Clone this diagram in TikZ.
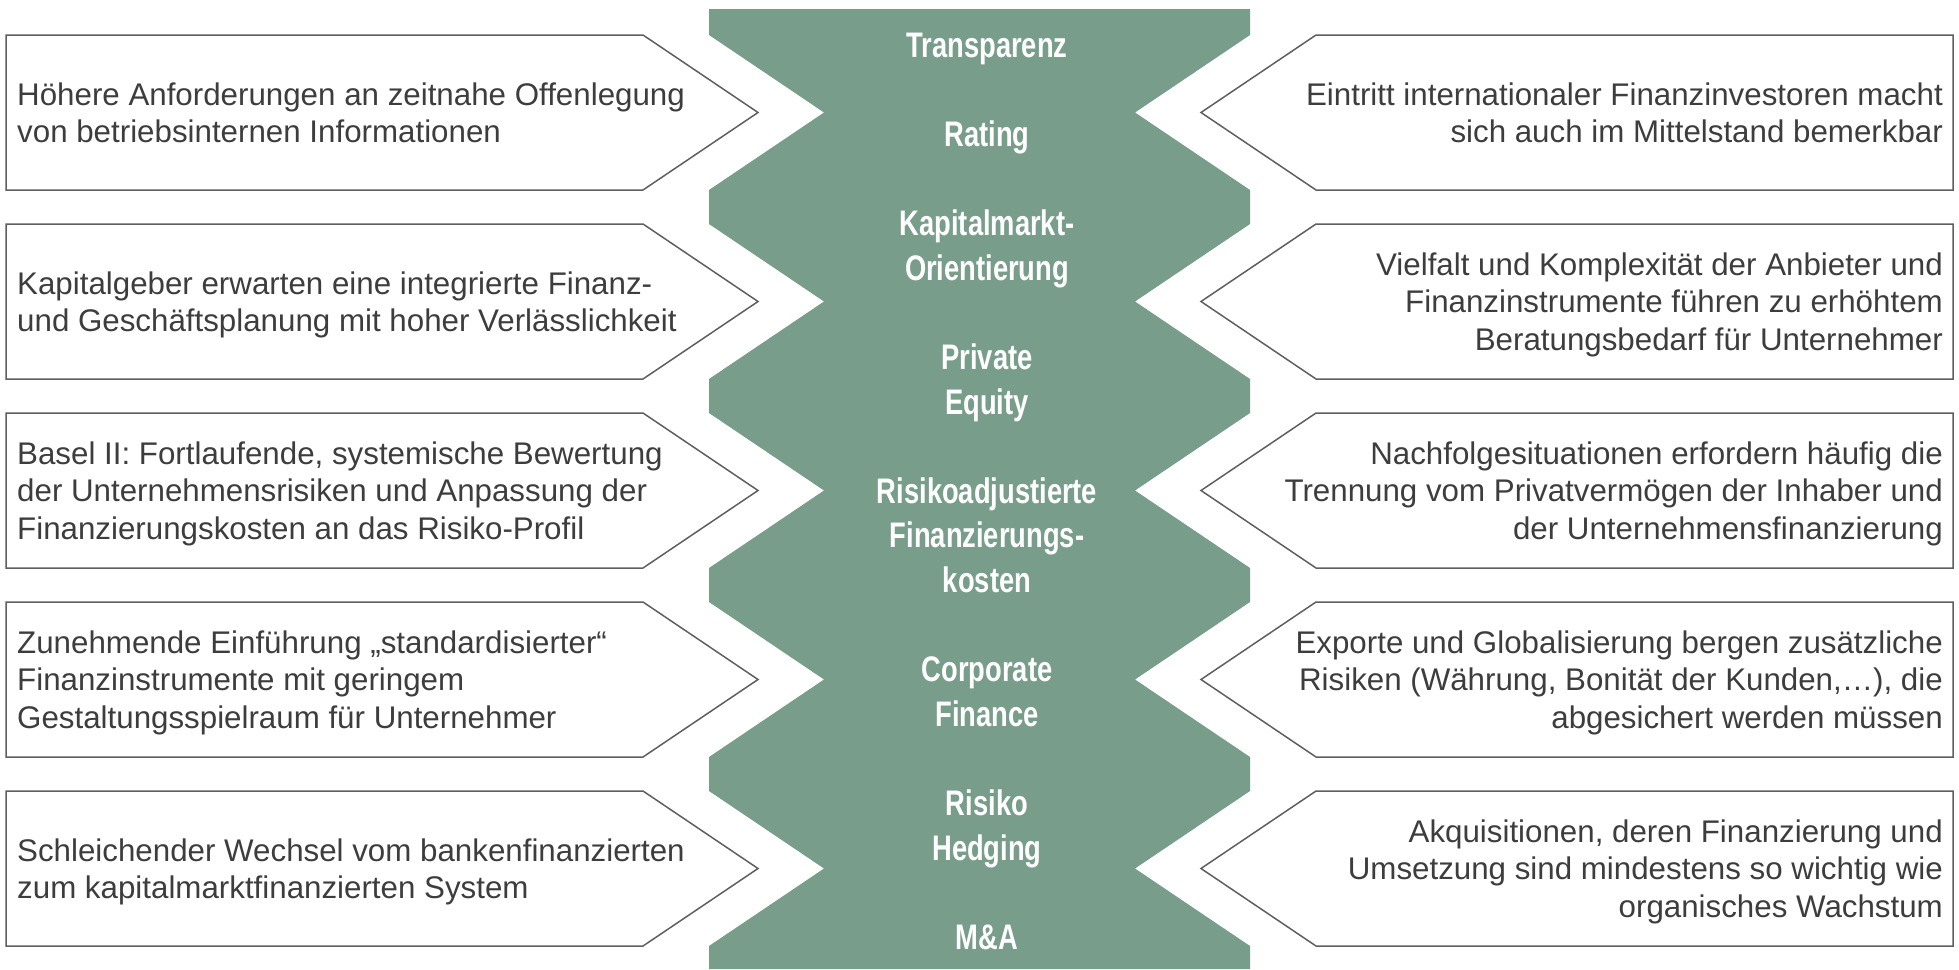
\documentclass[tikz,border=0pt]{standalone}
\usepackage{fontspec}
\setmainfont{Liberation Sans}
\newfontfamily\labelfont[FakeStretch=0.77]{Liberation Sans Bold}
\definecolor{greenband}{HTML}{789D8A}
\definecolor{boxline}{HTML}{5F5F5F}
\definecolor{boxtext}{HTML}{3D3D3D}
\newcommand\mystrut{\rule{0pt}{30pt}}
\begin{document}
\begin{tikzpicture}[x=1pt,y=-1pt,
  boxshape/.style={draw=boxline, line width=1.5pt, fill=white, line join=miter},
  ltxt/.style={anchor=north west, align=left, inner sep=0pt, text=boxtext, font=\fontsize{31.3}{37.4}\selectfont},
  rtxt/.style={anchor=north east, align=right, inner sep=0pt, text=boxtext, font=\fontsize{31.3}{37.4}\selectfont},
  lbl/.style={anchor=north, align=center, inner sep=0pt, text=white, font=\labelfont\fontsize{35.5}{44.6}\selectfont}]
\useasboundingbox (0,0) rectangle (1959,969);
\fill[white] (0,0) rectangle (1959,969);
% central green band
\fill[greenband] (709,9) -- (1250,9)
  \foreach \t in {35,224,413,602,791} { -- (1250,\t) -- (1135,\t+77.5) -- (1250,\t+155) }
  -- (1250,969) -- (709,969)
  \foreach \t in {791,602,413,224,35} { -- (709,\t+155) -- (824,\t+77.5) -- (709,\t) }
  -- cycle;
% boxes
\foreach \t in {35,224,413,602,791} {
  \draw[boxshape] (6,\t) -- (643,\t) -- (758,\t+77.5) -- (643,\t+155) -- (6,\t+155) -- cycle;
  \draw[boxshape] (1953,\t) -- (1316,\t) -- (1201,\t+77.5) -- (1316,\t+155) -- (1953,\t+155) -- cycle;
}
% left texts
\node[ltxt] (l1) at (17,75) {\mystrut H\"ohere Anforderungen an zeitnahe Offenlegung\\von betriebsinternen Informationen};
\node[ltxt] (l2) at (17,264) {\mystrut Kapitalgeber erwarten eine integrierte Finanz-\\und Gesch\"aftsplanung mit hoher Verl\"asslichkeit};
\node[ltxt] (l3) at (17,434.3) {\mystrut Basel II: Fortlaufende, systemische Bewertung\\der Unternehmensrisiken und Anpassung der\\Finanzierungskosten an das Risiko-Profil};
\node[ltxt] (l4) at (17,623.3) {\mystrut Zunehmende Einführung „standardisierter“\\Finanzinstrumente mit geringem\\Gestaltungsspielraum für Unternehmer};
\node[ltxt] (l5) at (17,831) {\mystrut Schleichender Wechsel vom bankenfinanzierten\\zum kapitalmarktfinanzierten System};
% right texts
\node[rtxt] (r1) at (1943,75) {\mystrut Eintritt internationaler Finanzinvestoren macht\\sich auch im Mittelstand bemerkbar};
\node[rtxt] (r2) at (1943,245.3) {\mystrut Vielfalt und Komplexität der Anbieter und\\Finanzinstrumente führen zu erhöhtem\\Beratungsbedarf für Unternehmer};
\node[rtxt] (r3) at (1943,434.3) {\mystrut Nachfolgesituationen erfordern häufig die\\Trennung vom Privatvermögen der Inhaber und\\der Unternehmensfinanzierung};
\node[rtxt] (r4) at (1943,623.3) {\mystrut Exporte und Globalisierung bergen zusätzliche\\Risiken (Währung, Bonität der Kunden,…), die\\abgesichert werden müssen};
\node[rtxt] (r5) at (1943,812.3) {\mystrut Akquisitionen, deren Finanzierung und\\Umsetzung sind mindestens so wichtig wie\\organisches Wachstum};
% central labels
\node[lbl] (c1) at (987,27) {\mystrut Transparenz};
\node[lbl] (c2) at (987,116.2) {\mystrut Rating};
\node[lbl] (c3) at (987,205.4) {\mystrut Kapitalmarkt-\\Orientierung};
\node[lbl] (c4) at (987,339.2) {\mystrut Private\\Equity};
\node[lbl] (c5) at (987,473) {\mystrut Risikoadjustierte\\Finanzierungs-\\kosten};
\node[lbl] (c6) at (987,651.4) {\mystrut Corporate\\Finance};
\node[lbl] (c7) at (987,785.2) {\mystrut Risiko\\Hedging};
\node[lbl] (c8) at (987,919) {\mystrut M\&A};
\end{tikzpicture}
\end{document}
